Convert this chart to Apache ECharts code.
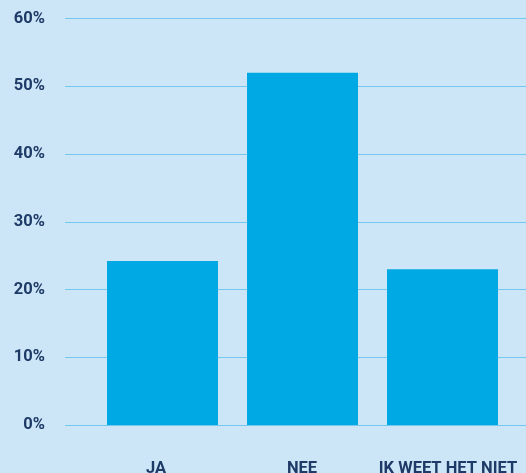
<!DOCTYPE html>
<html>
<head>
<meta charset="utf-8">
<script src="https://cdn.jsdelivr.net/npm/echarts@6/dist/echarts.min.js"></script>
<style>
html,body{margin:0;padding:0;background:#cce6f8;}
#c{width:526px;height:473px;}
</style>
</head>
<body>
<div id="c"></div>
<script>
const categories = ['JA', 'NEE', 'IK WEET HET NIET'];
const values = [24.2, 52, 23];
const yTicks = [0, 10, 20, 30, 40, 50, 60];

const chart = echarts.init(document.getElementById('c'), null, {renderer: 'canvas'});
const textColor = '#1e3a66';
const fontFamily = 'Roboto, "Noto Sans", sans-serif';
const g = {top: 18.5, bottom: 48, containLabel: false, outerBoundsMode: 'none'};
chart.setOption({
  backgroundColor: '#cce6f8',
  animation: false,
  grid: [
    Object.assign({left: 65, right: 0}, g),
    Object.assign({left: 92.5, right: 13.5}, g),
    Object.assign({left: 83, right: 5}, g)
  ],
  xAxis: [
    {type: 'category', gridIndex: 0, data: categories, show: false},
    {type: 'category', gridIndex: 1, data: categories, show: false},
    {type: 'category', gridIndex: 2, data: categories,
     axisLine: {show: false}, axisTick: {show: false},
     axisLabel: {margin: 35, color: textColor, fontWeight: 'bold', fontSize: 16.5, fontFamily: fontFamily, interval: 0}}
  ],
  yAxis: [
    {type: 'value', gridIndex: 0, min: yTicks[0], max: yTicks[yTicks.length - 1], interval: 10,
     axisLine: {show: false}, axisTick: {show: false},
     axisLabel: {formatter: '{value}%', margin: 20, color: textColor, fontWeight: 'bold', fontSize: 16.5, fontFamily: fontFamily},
     splitLine: {lineStyle: {color: '#74c7ef', width: 1}}},
    {type: 'value', gridIndex: 1, min: yTicks[0], max: yTicks[yTicks.length - 1], interval: 10, show: false,
     splitLine: {show: false}},
    {type: 'value', gridIndex: 2, min: yTicks[0], max: yTicks[yTicks.length - 1], interval: 10, show: false,
     splitLine: {show: false}}
  ],
  series: [{
    type: 'bar', xAxisIndex: 1, yAxisIndex: 1,
    data: values, barWidth: 111,
    itemStyle: {color: '#00a8e4'}
  }]
});
</script>
</body>
</html>
